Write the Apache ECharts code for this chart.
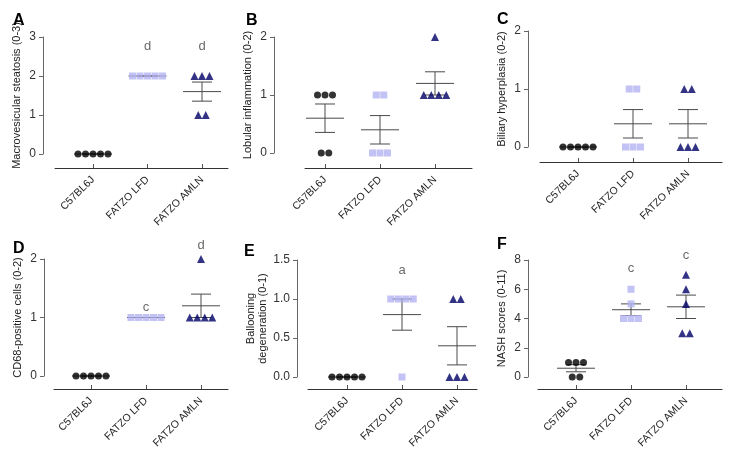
<!DOCTYPE html>
<html><head><meta charset="utf-8">
<script src="https://cdn.jsdelivr.net/npm/echarts@6/dist/echarts.min.js"></script>
<style>html,body{margin:0;padding:0;background:#fff}#c{width:738px;height:456px}</style>
</head><body><div id="c"></div>
<script>
// ---- data ----
const categories = ['C57BL6J', 'FATZO LFD', 'FATZO AMLN'];
const panelLetters = ['A', 'B', 'C', 'D', 'E', 'F'];
const yTitles = ['Macrovesicular steatosis (0-3)', 'Lobular inflammation (0-2)', 'Biliary hyperplasia (0-2)',
  'CD68-positive cells (0-2)', 'Ballooning\ndegeneration (0-1)', 'NASH scores (0-11)'];
const yMax = [3, 2, 2, 2, 1.5, 8];
const yInterval = [1, 1, 1, 1, 0.5, 2];
const yDecimals = [0, 0, 0, 0, 1, 0];
const steatosis = [[0, 0, 0, 0, 0], [2, 2, 2, 2, 2], [2, 2, 2, 1, 1]];
const lobular = [[1, 1, 1, 0, 0], [1, 1, 0, 0, 0], [2, 1, 1, 1, 1]];
const biliary = [[0, 0, 0, 0, 0], [1, 1, 0, 0, 0], [1, 1, 0, 0, 0]];
const cd68 = [[0, 0, 0, 0, 0], [1, 1, 1, 1, 1], [2, 1, 1, 1, 1]];
const ballooning = [[0, 0, 0, 0, 0], [1, 1, 1, 1, 0], [1, 1, 0, 0, 0]];
const nash = [[1, 1, 1, 0, 0], [6, 5, 4, 4, 4], [7, 6, 5, 3, 3]];
const panelValues = [steatosis, lobular, biliary, cd68, ballooning, nash];
const sigLetters = [['', 'd', 'd'], ['', '', ''], ['', '', ''], ['', 'c', 'd'], ['', 'a', ''], ['', 'c', 'c']];

// ---- layout / style ----
const layout = [
  {yx: 43, L: 55, R: 228, top: 37, y0: 154, xy: 168, c0: 93, c2: 202, lx: 13, ly: 13, sigY: [0, 2.77, 2.77]},
  {yx: 274, L: 305, R: 472, top: 37, y0: 153, xy: 168, c0: 325, c2: 435, lx: 246, ly: 13, sigY: [0, 0, 0]},
  {yx: 528, L: 540, R: 722, top: 31, y0: 147, xy: 162, c0: 578, c2: 688, lx: 497, ly: 12, sigY: [0, 0, 0]},
  {yx: 44, L: 54, R: 228, top: 259, y0: 376, xy: 389, c0: 91, c2: 201, lx: 13, ly: 241, sigY: [0, 1.18, 2.24]},
  {yx: 297, L: 308, R: 477, top: 260, y0: 377, xy: 389, c0: 347, c2: 457, lx: 244, ly: 244, sigY: [0, 1.36, 0]},
  {yx: 528, L: 538, R: 722, top: 260, y0: 377, xy: 389, c0: 576, c2: 686, lx: 497, ly: 237, sigY: [0, 7.45, 8.3]}
];
const colors = ['#000000', '#b3b3f2', '#000066'];
const symbols = ['circle', 'rect', 'triangle'];
const symSizes = [7, 7, 8];
const spacing = 7.5;
const FONT = "'Liberation Sans', Arial, sans-serif";
const X0 = 1; // category g is drawn at x = g + X0 (keeps 0 outside the x extent)

const grid = [], xAxis = [], yAxis = [], series = [], title = [];
layout.forEach((p, i) => {
  const s = (p.c2 - p.c0) / 2;
  const toX = px => (px - p.c0) / s + X0;
  const gD = 2 * i, gX = 2 * i + 1;
  grid.push({left: p.yx, width: p.R - p.yx, top: p.top, height: p.y0 - p.top});
  grid.push({left: p.L, width: p.R - p.L, top: p.top, height: p.xy - p.top});
  xAxis.push({type: 'value', gridIndex: gD, min: toX(p.yx), max: toX(p.R), show: false});
  xAxis.push({
    type: 'value', gridIndex: gX, min: toX(p.L), max: toX(p.R),
    splitLine: {show: false},
    axisLine: {show: true, lineStyle: {color: '#333', width: 1}},
    axisTick: {show: true, inside: true, length: 4, customValues: [X0, X0 + 1, X0 + 2], lineStyle: {color: '#555'}},
    axisLabel: {customValues: [X0, X0 + 1, X0 + 2], rotate: 45, margin: 10, fontSize: 10.5, color: '#222', fontFamily: FONT,
      formatter: v => categories[Math.round(v - X0)]}
  });
  yAxis.push({
    type: 'value', gridIndex: gD, min: 0, max: yMax[i], interval: yInterval[i],
    splitLine: {show: false},
    axisLine: {show: true, lineStyle: {color: '#666', width: 1}},
    axisTick: {show: true, length: 4, lineStyle: {color: '#666'}},
    axisLabel: {margin: 7, fontSize: 12, color: '#333', fontFamily: FONT,
      formatter: v => v.toFixed(yDecimals[i])},
    name: yTitles[i], nameLocation: 'middle', nameGap: i === 4 ? 26 : 20,
    nameTextStyle: {fontSize: 11, color: '#222', fontFamily: FONT, lineHeight: 12}
  });
  yAxis.push({type: 'value', gridIndex: gX, min: 0, max: 1, show: false});
  title.push({text: panelLetters[i], left: p.lx, top: p.ly, padding: 0,
    textStyle: {fontSize: 16, fontWeight: 'bold', color: '#000', fontFamily: FONT}});

  const groups = panelValues[i];
  const errData = groups.map((vals, g) => {
    const n = vals.length;
    const mean = vals.reduce((a, b) => a + b, 0) / n;
    const sd = Math.sqrt(vals.reduce((a, b) => a + (b - mean) * (b - mean), 0) / (n - 1));
    const sem = sd / Math.sqrt(n);
    return [g + X0, mean, mean - sem, mean + sem];
  });
  series.push({
    type: 'custom', xAxisIndex: gD, yAxisIndex: gD, clip: false, z: 1, data: errData,
    renderItem: (params, api) => {
      const c = api.coord([api.value(0), api.value(1)]);
      const lo = api.coord([api.value(0), api.value(2)]);
      const hi = api.coord([api.value(0), api.value(3)]);
      const st = {stroke: '#4a4a4a', lineWidth: 1};
      return {type: 'group', children: [
        {type: 'line', shape: {x1: c[0] - 19, y1: c[1], x2: c[0] + 19, y2: c[1]}, style: st},
        {type: 'line', shape: {x1: c[0], y1: hi[1], x2: c[0], y2: lo[1]}, style: st},
        {type: 'line', shape: {x1: c[0] - 10, y1: hi[1], x2: c[0] + 10, y2: hi[1]}, style: st},
        {type: 'line', shape: {x1: c[0] - 10, y1: lo[1], x2: c[0] + 10, y2: lo[1]}, style: st}
      ]};
    }
  });
  groups.forEach((vals, g) => {
    const data = [];
    const counts = {};
    vals.forEach(v => { counts[v] = (counts[v] || 0) + 1; });
    const seen = {};
    vals.forEach(v => {
      const k = seen[v] || 0; seen[v] = k + 1;
      const dx = (k - (counts[v] - 1) / 2) * spacing;
      data.push({value: [g + X0, v], symbolOffset: [dx, 0]});
    });
    series.push({
      type: 'scatter', xAxisIndex: gD, yAxisIndex: gD, clip: false, z: 3,
      symbol: symbols[g], symbolSize: symSizes[g], itemStyle: {color: colors[g]},
      data: data, silent: true
    });
  });
  const sig = [];
  sigLetters[i].forEach((t, g) => { if (t) sig.push({value: [g + X0, p.sigY[g]], name: t}); });
  series.push({
    type: 'scatter', xAxisIndex: gD, yAxisIndex: gD, clip: false, z: 4, symbolSize: 1,
    itemStyle: {color: 'rgba(0,0,0,0)'}, data: sig,
    label: {show: true, position: 'inside', formatter: d => d.name, fontSize: 13, color: '#444', fontFamily: FONT}
  });
});

const chart = echarts.init(document.getElementById('c'), null, {renderer: 'canvas'});
chart.setOption({animation: false, backgroundColor: '#fff', title, grid, xAxis, yAxis, series});
</script>
</body></html>
